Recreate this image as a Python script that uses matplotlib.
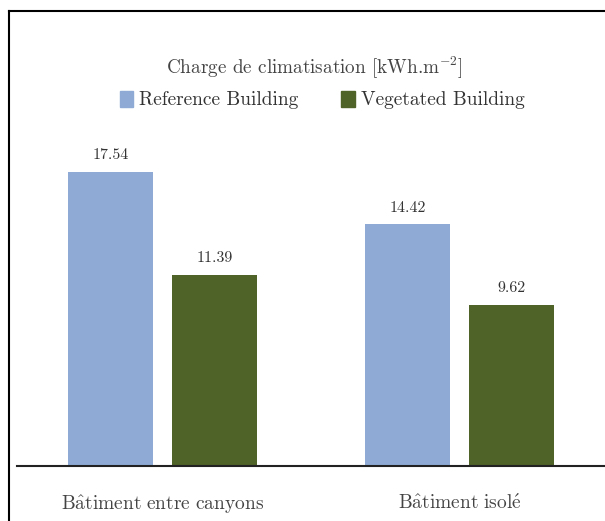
import numpy as np
import matplotlib
matplotlib.use("Agg")
import matplotlib.pyplot as plt
from matplotlib.lines import Line2D

plt.rcParams['font.family'] = ['cmr10', 'DejaVu Serif']
plt.rcParams['mathtext.fontset'] = 'cm'
plt.rcParams['axes.unicode_minus'] = False

# accented labels written with mathtext so cmr10 can draw them
categories = [r"$\mathrm{B\hat{a}timent\ entre\ canyons}$", r"$\mathrm{B\hat{a}timent\ isol\acute{e}}$"]
series_names = ["Reference Building", "Vegetated Building"]
reference = [17.54, 14.42]
vegetated = [11.39, 9.62]
colors = ["#8eaad5", "#4f6228"]

W, H = 605, 521
fig = plt.figure(figsize=(W / 100, H / 100), dpi=100)

# screenshot frame (left and top edges visible)
fig.add_artist(Line2D([9 / W, 9 / W], [0, 1 - 11 / H], color="black", lw=1.5))
fig.add_artist(Line2D([9 / W, 1], [1 - 11 / H, 1 - 11 / H], color="black", lw=1.5))

base_px = 466
top_px = 131
ax = fig.add_axes([17 / W, 1 - base_px / H, 1 - 17 / W, (base_px - top_px) / H])
ax.set_ylim(0, 20)
ax.set_xlim(-0.49, 1.49)

x = np.arange(len(categories))
width = 0.286
off = 0.175
b1 = ax.bar(x - off, reference, width, color=colors[0])
b2 = ax.bar(x + off, vegetated, width, color=colors[1])

for bars, vals in [(b1, reference), (b2, vegetated)]:
    for r, v in zip(bars, vals):
        ax.annotate(f"{v:.2f}", (r.get_x() + r.get_width() / 2, v),
                    xytext=(0, 7), textcoords="offset points",
                    ha="center", va="bottom", fontsize=11.5, color="#333333")

for s in ["top", "right", "left"]:
    ax.spines[s].set_visible(False)
ax.spines["bottom"].set_linewidth(1.5)
ax.spines["bottom"].set_color("#222222")
ax.set_yticks([])
ax.set_xticks(x)
ax.set_xticklabels(categories, fontsize=14, color="#444444")
ax.tick_params(axis="x", length=0, pad=20)

fig.text(314 / W, 1 - 67 / H, r"Charge de climatisation [kWh.m$^{\mathregular{-2}}$]",
         ha="center", va="center", fontsize=13.8, color="#444444")

handles = [plt.Rectangle((0, 0), 1, 1, color=c) for c in colors]
fig.legend(handles, series_names, loc="center", bbox_to_anchor=(322 / W, 1 - 100 / H),
           ncol=2, frameon=False, fontsize=14, handlelength=0.7, handleheight=0.9,
           handletextpad=0.3, columnspacing=2.2, labelcolor="#333333")

fig.savefig("out.png", dpi=100)
